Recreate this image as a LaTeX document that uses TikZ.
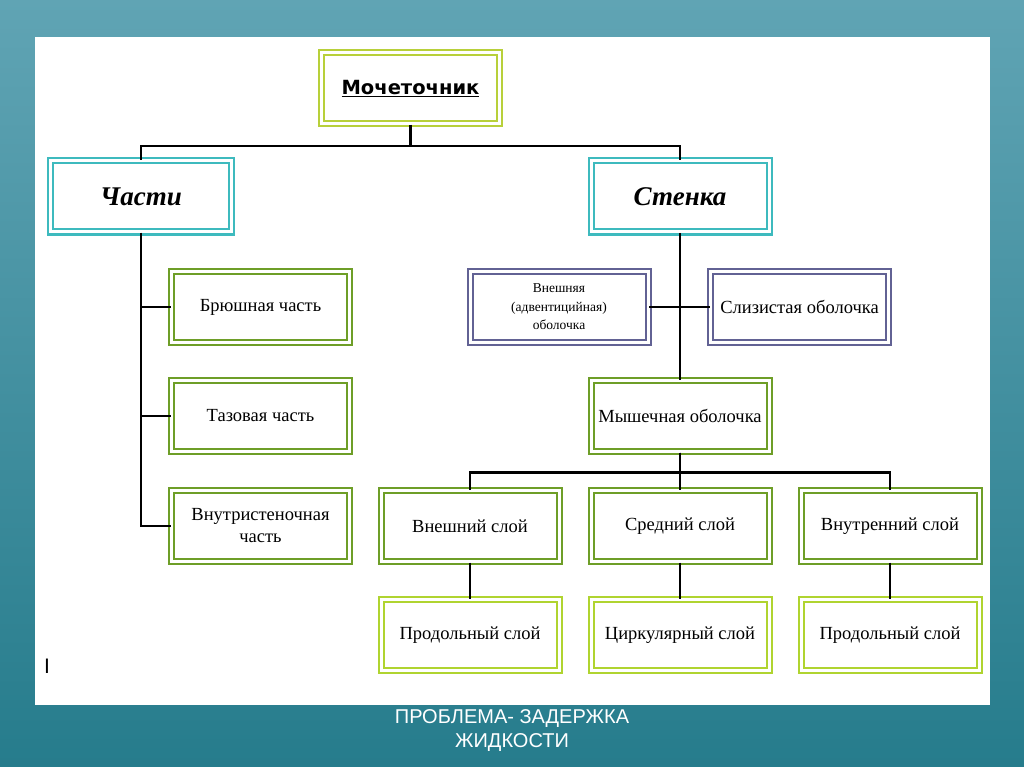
\documentclass[tikz,border=0pt]{standalone}
\usepackage{fontspec}
\setmainfont{Liberation Serif}
\newfontfamily\headfont{DejaVu Sans}
\newfontfamily\capfont{Liberation Sans}
\usetikzlibrary{calc}
\definecolor{seatop}{RGB}{96,164,180}
\definecolor{seabot}{RGB}{38,124,140}
\definecolor{limeline}{RGB}{184,208,58}
\definecolor{tealline}{RGB}{62,186,190}
\definecolor{leafline}{RGB}{110,158,40}
\definecolor{slateline}{RGB}{98,98,148}
\definecolor{paleline}{RGB}{176,212,48}
\newcommand\boxfont{\fontsize{18.5}{22}\selectfont}
\def\boxW{178pt}
\def\boxH{71pt}

\begin{document}
\begin{tikzpicture}[
    x=1pt, y=1pt,
    box/.style={
      line width=2pt, double=white, double distance=3pt,
      fill=white, minimum width=\boxW, minimum height=\boxH,
      inner sep=0pt, align=center, font=\boxfont
    },
    limebox/.style={box, draw=limeline},
    tealbox/.style={box, draw=tealline,
      font=\fontsize{27}{30}\selectfont\bfseries\itshape},
    leafbox/.style={box, draw=leafline},
    slatebox/.style={box, draw=slateline},
    palebox/.style={box, draw=paleline},
    link/.style={line width=2.5pt, black}
  ]
    % background and sheet
    \shade[top color=seatop, bottom color=seabot] (0,0) rectangle (1024,-767);
    \useasboundingbox (0,0) rectangle (1024,-767);
    \fill[white] (35,-37) rectangle (990,-705);

    % top level
    \node[limebox, font=\headfont\bfseries\fontsize{19.5}{23}\selectfont]
      (ureter) at (410.5,-88.5) {\underline{Мочеточник}};
    \node[tealbox, minimum width=181pt] (parts) at (141,-196.5) {Части};
    \node[tealbox] (wall) at (680,-196.5) {Стенка};

    % parts
    \node[leafbox] (abdominal) at (260.5,-307) {Брюшная часть};
    \node[leafbox] (pelvic) at (260.5,-416) {Тазовая часть};
    \node[leafbox] (intramural) at (260.5,-526) {Внутристеночная\\часть};

    % wall
    \node[slatebox, font=\fontsize{13.5}{18.5}\selectfont]
      (adventitia) at (559,-307) {Внешняя\\(адвентицийная)\\оболочка};
    \node[slatebox] (mucosa) at (799.5,-307) {Слизистая оболочка};
    \node[leafbox] (muscle) at (680,-416) {Мышечная оболочка};

    % muscle layers
    \node[leafbox] (outerlayer) at (470,-526) {Внешний слой};
    \node[leafbox] (midlayer) at (680,-526) {Средний слой};
    \node[leafbox] (innerlayer) at (890,-526) {Внутренний слой};
    \node[palebox] (longouter) at (470,-635) {Продольный слой};
    \node[palebox] (circular) at (680,-635) {Циркулярный слой};
    \node[palebox] (longinner) at (890,-635) {Продольный слой};

    % connectors
    \draw[link] (ureter.south) |- ($(parts.north)+(0,14)$) -- (parts.north);
    \draw[link] (ureter.south) |- ($(wall.north)+(0,14)$) -- (wall.north);
    \draw[link] (parts.south) |- (abdominal.west);
    \draw[link] (parts.south) |- (pelvic.west);
    \draw[link] (parts.south) |- (intramural.west);
    \draw[link] (wall.south) -- (muscle.north);
    \draw[link] (adventitia.east) -- (mucosa.west);
    \draw[link] (muscle.south) |- ($(outerlayer.north)+(0,17)$) -- (outerlayer.north);
    \draw[link] (muscle.south) |- ($(innerlayer.north)+(0,17)$) -- (innerlayer.north);
    \draw[link] (muscle.south) -- (midlayer.north);
    \draw[link] (outerlayer.south) -- (longouter.north);
    \draw[link] (midlayer.south) -- (circular.north);
    \draw[link] (innerlayer.south) -- (longinner.north);

    % stray mark and caption
    \node[font=\capfont\fontsize{21}{24}\selectfont, anchor=west, inner sep=0pt]
      (cursor) at (44,-666) {I};
    \node[font=\capfont\fontsize{20}{24}\selectfont, text=white, align=center]
      (caption) at (512,-731) {ПРОБЛЕМА- ЗАДЕРЖКА\\ЖИДКОСТИ};
  \end{tikzpicture}
\end{document}
